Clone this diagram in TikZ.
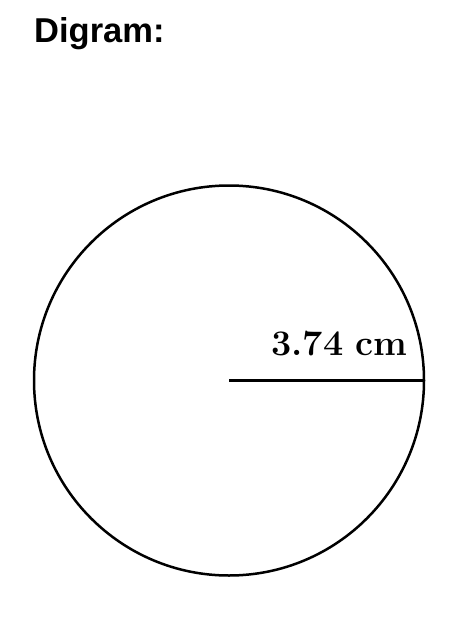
\documentclass[tikz,border=0pt]{standalone}
\usepackage{fontspec}
\newfontfamily\titlefont{Liberation Sans}
\begin{document}
\begin{tikzpicture}[x=1pt,y=-1pt,
  titlestyle/.style={font=\titlefont\bfseries\fontsize{34.5}{40}\selectfont, inner sep=0pt},
  labelstyle/.style={font=\bfseries\fontsize{36}{40}\selectfont, inner sep=0pt},
  circ/.style={draw, circle, line width=2.5pt, minimum size=390pt, inner sep=0pt},
  radius line/.style={line width=2.5pt}]
\useasboundingbox[fill=white] (0,0) rectangle (474,631);
\node[titlestyle, anchor=base west] (title) at (34,43) {Digram:};
\node[circ] (c) at (229,380.5) {};
\coordinate (ctr) at (c.center);
\draw[radius line] (ctr) -- (c.east);
\node[labelstyle, anchor=base west] (lbl) at (271,355) {3.74\,\,cm};
\end{tikzpicture}
\end{document}
